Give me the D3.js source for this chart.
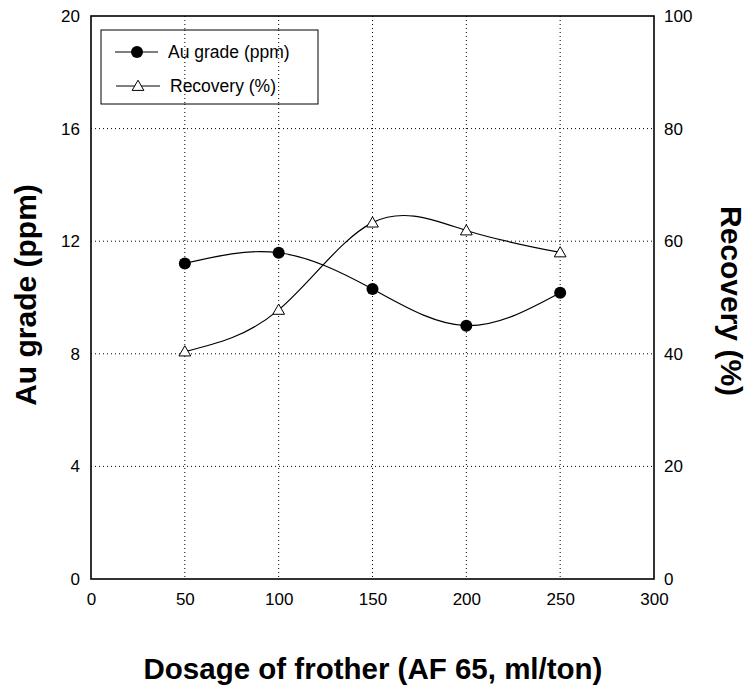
<!DOCTYPE html>
<html><head><meta charset="utf-8">
<script src="https://cdn.jsdelivr.net/npm/d3@7"></script>
<style>body{margin:0;background:#fff;} svg{display:block;font-family:"Liberation Sans",Arial,sans-serif;}</style>
</head><body><svg id="c" width="748" height="691"></svg>
<script>
const dosage = [50, 100, 150, 200, 250];
const auGrade = [11.21, 11.59, 10.30, 9.00, 10.17];
const recovery = [40.4, 47.8, 63.3, 61.9, 58.0];
const xTicks = [0, 50, 100, 150, 200, 250, 300];
const yLeftTicks = [0, 4, 8, 12, 16, 20];
const yRightTicks = [0, 20, 40, 60, 80, 100];
const legendLabels = ["Au grade (ppm)", "Recovery (%)"];

const svg = d3.select("#c");
const L = 91, R = 654, T = 16, B = 579;
const x = d3.scaleLinear().domain([0, 300]).range([L, R]);
const yL = d3.scaleLinear().domain([0, 20]).range([B, T]);
const yR = d3.scaleLinear().domain([0, 100]).range([B, T]);
const FONT = "Liberation Sans, Arial, sans-serif";

// grid
const g = svg.append("g");
g.selectAll(".gx").data(xTicks.slice(1, -1)).enter().append("line")
  .attr("x1", d => x(d)).attr("x2", d => x(d)).attr("y1", T).attr("y2", B)
  .attr("stroke", "#000").attr("stroke-width", 1).attr("stroke-dasharray", "1,3");
g.selectAll(".gy").data(yLeftTicks.slice(1, -1)).enter().append("line")
  .attr("y1", d => yL(d)).attr("y2", d => yL(d)).attr("x1", L).attr("x2", R)
  .attr("stroke", "#000").attr("stroke-width", 1).attr("stroke-dasharray", "1,3");

// axes (no tick marks)
const ax = svg.append("g").attr("transform", `translate(0,${B})`)
  .call(d3.axisBottom(x).tickValues(xTicks).tickSize(0).tickPadding(14));
const ayl = svg.append("g").attr("transform", `translate(${L},0)`)
  .call(d3.axisLeft(yL).tickValues(yLeftTicks).tickSize(0).tickPadding(11));
const ayr = svg.append("g").attr("transform", `translate(${R},0)`)
  .call(d3.axisRight(yR).tickValues(yRightTicks).tickSize(0).tickPadding(10));
[ax, ayl, ayr].forEach(a => {
  a.select(".domain").remove();
  a.selectAll("text").attr("font-size", 17).attr("font-family", FONT).attr("fill", "#000");
});

// frame
svg.append("rect").attr("x", L).attr("y", T).attr("width", R - L).attr("height", B - T)
  .attr("fill", "none").attr("stroke", "#000").attr("stroke-width", 1.6);

// lines
const line1 = d3.line().x((d, i) => x(dosage[i])).y(d => yL(d)).curve(d3.curveNatural);
const line2 = d3.line().x((d, i) => x(dosage[i])).y(d => yR(d)).curve(d3.curveNatural);
svg.append("path").attr("d", line1(auGrade)).attr("fill", "none").attr("stroke", "#000").attr("stroke-width", 1.2);
svg.append("path").attr("d", line2(recovery)).attr("fill", "none").attr("stroke", "#000").attr("stroke-width", 1.2);

const tri = d3.symbol().type(d3.symbolTriangle).size(60);
svg.selectAll(".c").data(auGrade).enter().append("circle")
  .attr("cx", (d, i) => x(dosage[i])).attr("cy", d => yL(d)).attr("r", 6).attr("fill", "#000");
svg.selectAll(".t").data(recovery).enter().append("path")
  .attr("d", tri).attr("transform", (d, i) => `translate(${x(dosage[i])},${yR(d) + 1})`)
  .attr("fill", "#fff").attr("stroke", "#000").attr("stroke-width", 1);

// legend
const lg = svg.append("g");
const LX0 = 101, LX1 = 318, LY0 = 30, LY1 = 104;
lg.append("rect").attr("x", LX0).attr("y", LY0).attr("width", LX1 - LX0).attr("height", LY1 - LY0)
  .attr("fill", "#fff").attr("stroke", "#000").attr("stroke-width", 1);
lg.selectAll(".lgx").data(xTicks.filter(d => x(d) > LX0 && x(d) < LX1)).enter().append("line")
  .attr("x1", d => x(d)).attr("x2", d => x(d)).attr("y1", LY0).attr("y2", LY1)
  .attr("stroke", "#000").attr("stroke-dasharray", "1,3");
lg.append("line").attr("x1", 115).attr("x2", 158).attr("y1", 52).attr("y2", 52).attr("stroke", "#000");
lg.append("circle").attr("cx", 137).attr("cy", 52).attr("r", 6).attr("fill", "#000");
lg.append("line").attr("x1", 116).attr("x2", 160).attr("y1", 86).attr("y2", 86).attr("stroke", "#000");
lg.append("path").attr("d", tri).attr("transform", "translate(138,87)").attr("fill", "#fff").attr("stroke", "#000");
lg.append("text").attr("x", 168).attr("y", 58).attr("font-size", 17.5).text(legendLabels[0]);
lg.append("text").attr("x", 170).attr("y", 92).attr("font-size", 17.5).text(legendLabels[1]);

// titles
svg.append("text").attr("transform", "translate(36,295) rotate(-90)").attr("text-anchor", "middle")
  .attr("font-size", 30).attr("font-weight", "bold").text("Au grade (ppm)");
svg.append("text").attr("transform", "translate(721,301) rotate(90)").attr("text-anchor", "middle")
  .attr("font-size", 30).attr("font-weight", "bold").text("Recovery (%)");
svg.append("text").attr("x", 373).attr("y", 679).attr("text-anchor", "middle")
  .attr("font-size", 29.5).attr("font-weight", "bold").text("Dosage of frother (AF 65, ml/ton)");
</script></body></html>
